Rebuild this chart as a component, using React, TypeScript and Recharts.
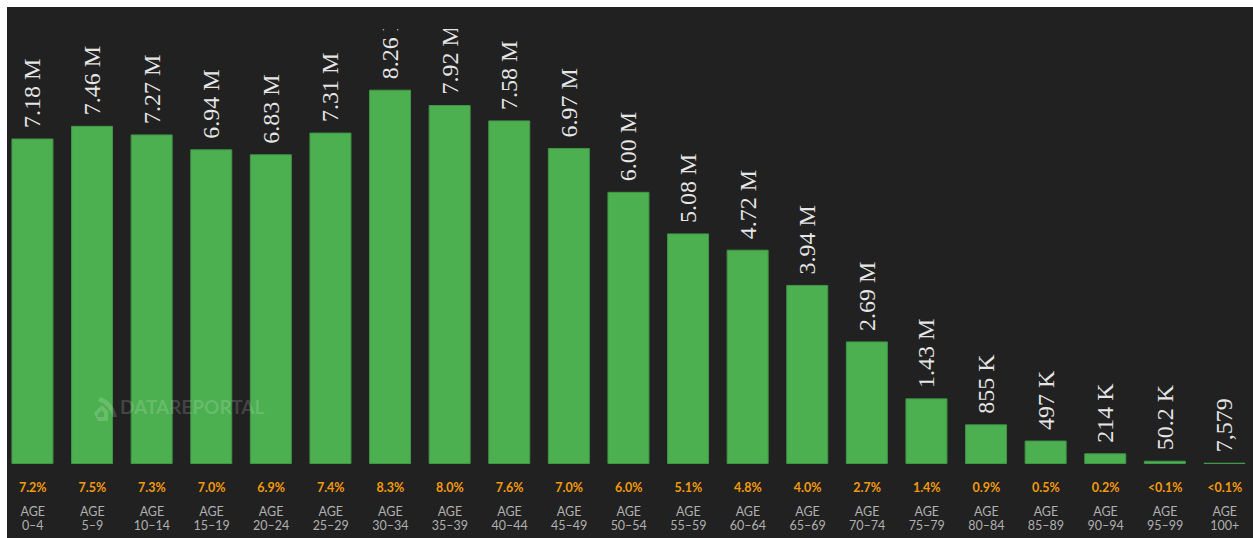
import { BarChart, Bar, XAxis, YAxis, LabelList } from 'recharts'

const ageRanges = ['0–4', '5–9', '10–14', '15–19', '20–24', '25–29', '30–34', '35–39', '40–44', '45–49', '50–54', '55–59', '60–64', '65–69', '70–74', '75–79', '80–84', '85–89', '90–94', '95–99', '100+']
const population = [7180000, 7460000, 7270000, 6940000, 6830000, 7310000, 8260000, 7920000, 7580000, 6970000, 6000000, 5080000, 4720000, 3940000, 2690000, 1430000, 855000, 497000, 214000, 50200, 7579]
const valueLabels = ['7.18 M', '7.46 M', '7.27 M', '6.94 M', '6.83 M', '7.31 M', '8.26 M', '7.92 M', '7.58 M', '6.97 M', '6.00 M', '5.08 M', '4.72 M', '3.94 M', '2.69 M', '1.43 M', '855 K', '497 K', '214 K', '50.2 K', '7,579']
const shares = ['7.2%', '7.5%', '7.3%', '7.0%', '6.9%', '7.4%', '8.3%', '8.0%', '7.6%', '7.0%', '6.0%', '5.1%', '4.8%', '4.0%', '2.7%', '1.4%', '0.9%', '0.5%', '0.2%', '<0.1%', '<0.1%']

const data = ageRanges.map((range, i) => ({ range, value: population[i], label: valueLabels[i] }))

const BG = '#212121'
const SANS = 'Lato, "Open Sans", sans-serif'

function AgeTick({ x, y, index }: any) {
  return (
    <g>
      <text x={x} y={y + 20} textAnchor="middle" fill="#f39a0c" fontSize={12.5} fontWeight={700} fontFamily={SANS}>
        {shares[index]}
      </text>
      <text x={x} y={y + 44} textAnchor="middle" fill="#b0b0b0" fontSize={12.5} fontFamily={SANS}>AGE</text>
      <text x={x} y={y + 58} textAnchor="middle" fill="#b0b0b0" fontSize={12.5} fontFamily={SANS}>
        {ageRanges[index]}
      </text>
    </g>
  )
}

function ValueLabel({ x, y, width, index }: any) {
  const cx = x + width / 2
  const by = y - 11
  return (
    <text
      x={cx}
      y={by}
      transform={`rotate(-90 ${cx} ${by})`}
      dominantBaseline="central"
      fill="#e6e6e6"
      fontSize={24}
      fontFamily='"Liberation Serif", serif'
    >
      {valueLabels[index]}
    </text>
  )
}

export default function App() {
  return (
    <div style={{ position: 'fixed', left: 0, top: 0, width: 1253, height: 538, background: '#fff', overflow: 'hidden' }}>
      <div style={{ position: 'absolute', left: 7, top: 7, right: 0, bottom: 0, background: BG }} />
      <div style={{ position: 'absolute', left: 0, top: 0 }}>
        <BarChart
          width={1260}
          height={538}
          data={data}
          margin={{ top: 30.5, right: 5.45, bottom: 0, left: 2.95 }}
          barCategoryGap={0}
        >
          <XAxis dataKey="range" height={74.5} axisLine={false} tickLine={false} interval={0} tick={<AgeTick />} />
          <YAxis hide domain={[0, 9580000]} />
          <Bar dataKey="value" barSize={41} fill="#4caf50" stroke="#409647" strokeWidth={1} isAnimationActive={false}>
            <LabelList dataKey="label" content={<ValueLabel />} />
          </Bar>
        </BarChart>
      </div>
      {/* long labels get cut off at the top in the original */}
      <div style={{ position: 'absolute', left: 7, top: 7, right: 0, height: 21.5, background: BG }} />
      <div style={{ position: 'absolute', left: 93, top: 396, display: 'flex', alignItems: 'flex-start', color: 'rgba(255,255,255,0.17)' }}>
        <svg width={26} height={27} viewBox="0 0 26 27" style={{ marginRight: 1 }}>
          <path d="M1 17 L9 9 L15 15 L15 25 L5 25 Z M5 18 L5 21 L11 21 L11 17 L9 14 Z" fill="currentColor" fillRule="evenodd" />
          <path d="M7 1 Q20 5 24 21 L20 21 Q16 9 5 5 Z" fill="currentColor" />
        </svg>
        <span style={{ fontFamily: SANS, fontWeight: 700, fontSize: 19, lineHeight: '22px' }}>DATAREPORTAL</span>
      </div>
    </div>
  )
}
